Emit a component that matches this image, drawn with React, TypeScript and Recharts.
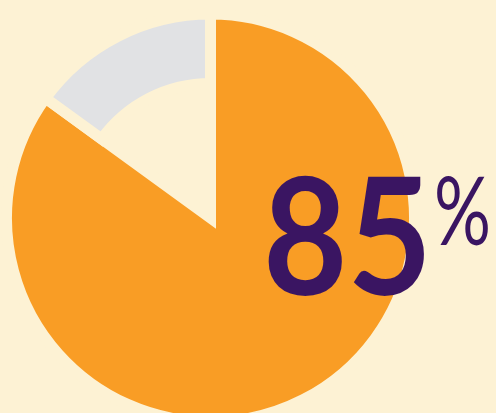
import React from 'react';
import { PieChart, Pie, Cell } from 'recharts';

// share of answers
const labels = ['Yes', 'No'];
const values = [85, 15];
const headline = '85';

const ORANGE = '#F99D25';
const GREY = '#E1E2E4';
const CREAM = '#FDF2D4';
const PURPLE = '#3A1562';

const data = labels.map((name, i) => ({ name, value: values[i] }));

const App = () => {
  return (
    <div
      style={{
        position: 'absolute',
        left: 0,
        top: 0,
        width: 496,
        height: 413,
        background: CREAM,
        overflow: 'hidden',
      }}
    >
      <PieChart width={496} height={413} margin={{ top: 0, right: 0, bottom: 0, left: 0 }}>
        {/* big orange slice, grey one left empty here */}
        <Pie
          data={data}
          dataKey="value"
          cx={210.5}
          cy={218}
          innerRadius={0}
          outerRadius={204}
          startAngle={90}
          endAngle={-270}
          isAnimationActive={false}
        >
          <Cell fill={ORANGE} stroke={CREAM} strokeWidth={11} />
          <Cell fill="none" stroke="none" />
        </Pie>
        {/* thinner grey ring for the rest */}
        <Pie
          data={data}
          dataKey="value"
          cx={210.5}
          cy={218}
          innerRadius={134.5}
          outerRadius={204}
          startAngle={90}
          endAngle={-270}
          isAnimationActive={false}
        >
          <Cell fill="none" stroke="none" />
          <Cell fill={GREY} stroke={CREAM} strokeWidth={11} />
        </Pie>
      </PieChart>
      {/* headline sits on top of the pie */}
      <svg
        width={496}
        height={413}
        style={{ position: 'absolute', left: 0, top: 0, pointerEvents: 'none' }}
      >
        <text
          x={263}
          y={295}
          fill={PURPLE}
          fontFamily="Lato, sans-serif"
          fontWeight={700}
          fontSize={162}
          textLength={169}
          lengthAdjust="spacingAndGlyphs"
        >
          {headline}
        </text>
        <text
          x={434}
          y={245}
          fill={PURPLE}
          fontFamily="Lato, sans-serif"
          fontWeight={400}
          fontSize={95}
          textLength={57}
          lengthAdjust="spacingAndGlyphs"
        >
          %
        </text>
      </svg>
    </div>
  );
};

export default App;
